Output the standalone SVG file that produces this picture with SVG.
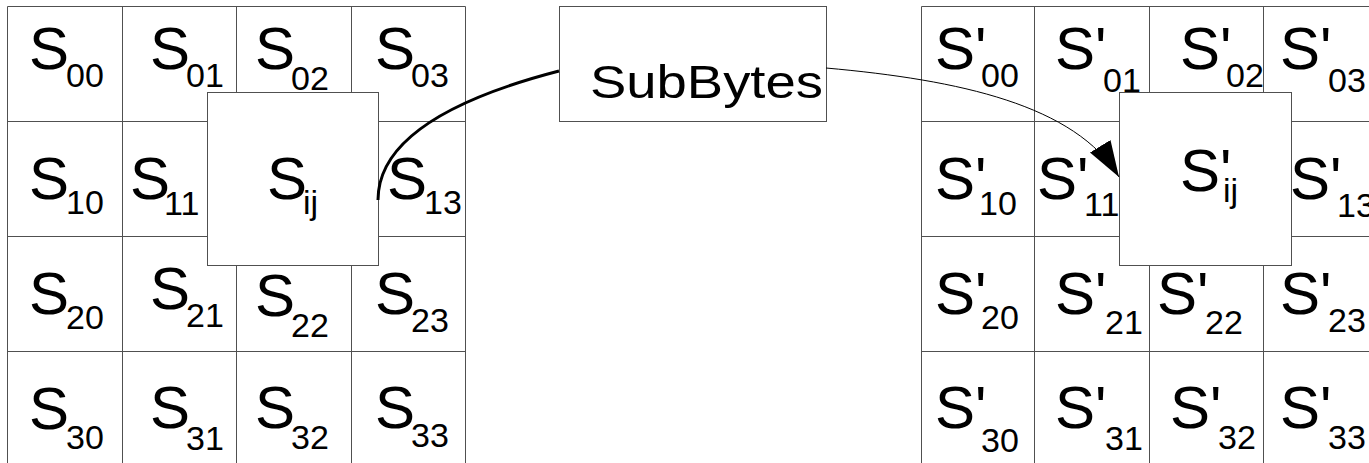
<svg xmlns="http://www.w3.org/2000/svg" width="1369" height="463" viewBox="0 0 1369 463">
<style>
.grid{fill:none;stroke:#505050;stroke-width:1}
.box{fill:#fff;stroke:#505050;stroke-width:1}
.lbl{font-family:"Liberation Sans",Arial,sans-serif;font-size:60px;fill:#000}
.sub{font-size:34px}
.thick{fill:none;stroke:#000;stroke-width:3}
.thin{fill:none;stroke:#000;stroke-width:1}
</style>
<defs>
<marker id="ah" markerUnits="userSpaceOnUse" markerWidth="40" markerHeight="26" refX="36" refY="12" orient="auto">
<path d="M0,0 L36,12 L0,24 z" fill="#000"/>
</marker>
</defs>
<rect width="1369" height="463" fill="#fff"/>

<g id="left-grid">
<path class="grid" d="M7.5,6.5H465.5M7.5,121.5H465.5M7.5,236.5H465.5M7.5,351.5H465.5M7.5,6.5V470M122.5,6.5V470M236.5,6.5V470M351.5,6.5V470M465.5,6.5V470"/>
<g id="s00"><text class="lbl"><tspan x="29" y="69">S</tspan><tspan class="sub" x="66" y="87">00</tspan></text></g>
<g id="s01"><text class="lbl"><tspan x="150" y="69">S</tspan><tspan class="sub" x="186" y="87">01</tspan></text></g>
<g id="s02"><text class="lbl"><tspan x="255" y="69">S</tspan><tspan class="sub" x="291" y="90">02</tspan></text></g>
<g id="s03"><text class="lbl"><tspan x="375" y="69">S</tspan><tspan class="sub" x="411" y="87">03</tspan></text></g>
<g id="s10"><text class="lbl"><tspan x="29" y="199">S</tspan><tspan class="sub" x="66" y="214">10</tspan></text></g>
<g id="s11"><text class="lbl"><tspan x="130" y="199">S</tspan><tspan class="sub" x="164" y="215">11</tspan></text></g>
<g id="s13"><text class="lbl"><tspan x="387" y="199">S</tspan><tspan class="sub" x="424" y="214">13</tspan></text></g>
<g id="s20"><text class="lbl"><tspan x="29" y="314">S</tspan><tspan class="sub" x="66" y="329">20</tspan></text></g>
<g id="s21"><text class="lbl"><tspan x="150" y="309">S</tspan><tspan class="sub" x="186" y="327">21</tspan></text></g>
<g id="s22"><text class="lbl"><tspan x="255" y="316">S</tspan><tspan class="sub" x="291" y="337">22</tspan></text></g>
<g id="s23"><text class="lbl"><tspan x="375" y="314">S</tspan><tspan class="sub" x="411" y="332">23</tspan></text></g>
<g id="s30"><text class="lbl"><tspan x="29" y="429">S</tspan><tspan class="sub" x="66" y="449">30</tspan></text></g>
<g id="s31"><text class="lbl"><tspan x="150" y="428">S</tspan><tspan class="sub" x="186" y="450">31</tspan></text></g>
<g id="s32"><text class="lbl"><tspan x="255" y="428">S</tspan><tspan class="sub" x="291" y="449">32</tspan></text></g>
<g id="s33"><text class="lbl"><tspan x="375" y="428">S</tspan><tspan class="sub" x="411" y="447">33</tspan></text></g>
</g>
<g id="sij">
<rect class="box" x="207.5" y="92.5" width="171" height="173"/>
<text class="lbl"><tspan x="267" y="199">S</tspan><tspan class="sub" x="303" y="214">ij</tspan></text>
</g>

<g id="subbytes">
<rect class="box" x="559.5" y="6.5" width="267" height="115"/>
<text class="lbl" x="590" y="98" style="font-size:47px" textLength="233" lengthAdjust="spacingAndGlyphs">SubBytes</text>
</g>

<g id="right-grid">
<path class="grid" d="M921.5,6.5H1375M921.5,121.5H1375M921.5,236.5H1375M921.5,351.5H1375M921.5,6.5V470M1034.5,6.5V470M1149.5,6.5V470M1263.5,6.5V470"/>
<g id="t00"><text class="lbl"><tspan x="935" y="69">S'</tspan><tspan class="sub" x="981" y="87">00</tspan></text></g>
<g id="t01"><text class="lbl"><tspan x="1055" y="69">S'</tspan><tspan class="sub" x="1103" y="92">01</tspan></text></g>
<g id="t02"><text class="lbl"><tspan x="1180" y="69">S'</tspan><tspan class="sub" x="1226" y="87">02</tspan></text></g>
<g id="t03"><text class="lbl"><tspan x="1280" y="69">S'</tspan><tspan class="sub" x="1328" y="92">03</tspan></text></g>
<g id="t10"><text class="lbl"><tspan x="935" y="199">S'</tspan><tspan class="sub" x="979" y="215">10</tspan></text></g>
<g id="t11"><text class="lbl"><tspan x="1037" y="199">S'</tspan><tspan class="sub" x="1084" y="216">11</tspan></text></g>
<g id="t13"><text class="lbl"><tspan x="1290" y="199">S'</tspan><tspan class="sub" x="1337" y="217">13</tspan></text></g>
<g id="t20"><text class="lbl"><tspan x="935" y="314">S'</tspan><tspan class="sub" x="981" y="329">20</tspan></text></g>
<g id="t21"><text class="lbl"><tspan x="1055" y="314">S'</tspan><tspan class="sub" x="1105" y="334">21</tspan></text></g>
<g id="t22"><text class="lbl"><tspan x="1157" y="314">S'</tspan><tspan class="sub" x="1205" y="334">22</tspan></text></g>
<g id="t23"><text class="lbl"><tspan x="1280" y="314">S'</tspan><tspan class="sub" x="1328" y="332">23</tspan></text></g>
<g id="t30"><text class="lbl"><tspan x="935" y="428">S'</tspan><tspan class="sub" x="981" y="452">30</tspan></text></g>
<g id="t31"><text class="lbl"><tspan x="1055" y="428">S'</tspan><tspan class="sub" x="1105" y="450">31</tspan></text></g>
<g id="t32"><text class="lbl"><tspan x="1170" y="428">S'</tspan><tspan class="sub" x="1218" y="449">32</tspan></text></g>
<g id="t33"><text class="lbl"><tspan x="1280" y="428">S'</tspan><tspan class="sub" x="1328" y="449">33</tspan></text></g>
</g>
<g id="tij">
<rect class="box" x="1119.5" y="92.5" width="172" height="173"/>
<text class="lbl"><tspan x="1180" y="191">S'</tspan><tspan class="sub" x="1223" y="202">ij</tspan></text>
</g>

<g id="connectors">
<path class="thick" d="M559,71 Q378,118 378,200"/>
<path class="thin" d="M826,68 C960,80 1075,105 1119,177" marker-end="url(#ah)"/>
</g>
</svg>
